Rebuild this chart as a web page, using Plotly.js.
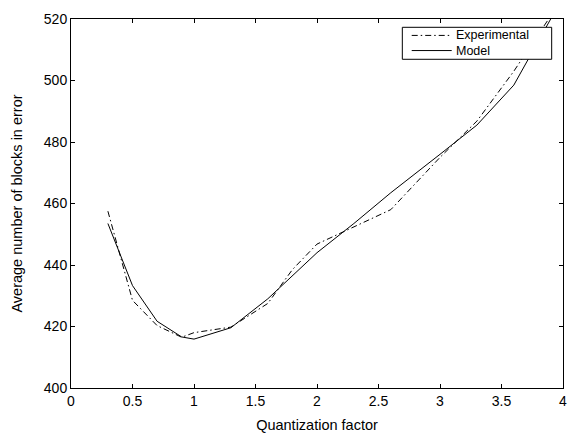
<!DOCTYPE html>
<html>
<head>
<meta charset="utf-8">
<script src="https://cdn.plot.ly/plotly-3.0.1.min.js"></script>
<style>html,body{margin:0;padding:0;background:#fff;}#chart{width:570px;height:434px;}</style>
</head>
<body>
<div id="chart"></div>
<script>
const expX = [0.3, 0.5, 0.7, 0.9, 1.0, 1.3, 1.6, 1.8, 2.0, 2.3, 2.6, 3.0, 3.3, 3.6, 3.9];
const expY = [457.5, 428.5, 420.3, 416.5, 418.0, 419.8, 427.5, 438.5, 446.8, 452.5, 458.0, 475.0, 486.8, 503.0, 521.0];
const modelX = [0.3, 0.5, 0.7, 0.9, 1.0, 1.3, 1.6, 2.0, 2.3, 2.6, 3.0, 3.3, 3.6, 3.9];
const modelY = [453.5, 433.3, 421.7, 416.6, 415.9, 419.6, 429.0, 444.0, 453.5, 463.5, 476.0, 485.5, 498.5, 520.0];
const xTicks = [0, 0.5, 1, 1.5, 2, 2.5, 3, 3.5, 4];
const xTickText = ['0', '0.5', '1', '1.5', '2', '2.5', '3', '3.5', '4'];
const yTicks = [400, 420, 440, 460, 480, 500, 520];
const seriesNames = ['Experimental', 'Model'];

const fam = 'Liberation Sans, Arial, sans-serif';
const expDash = '6px,3px,1.5px,3px';

const traces = [
  {x: expX, y: expY, type: 'scatter', mode: 'lines', name: seriesNames[0],
   line: {color: '#000', width: 1, dash: expDash}},
  {x: modelX, y: modelY, type: 'scatter', mode: 'lines', name: seriesNames[1],
   line: {color: '#000', width: 1}}
];

// Legend drawn in paper coordinates (box, line samples, labels)
const lg = {x0: 0.6734, x1: 0.977, y0: 0.8908, y1: 0.9775,
            sx0: 0.6925, sx1: 0.7738, tx: 0.7805, rows: [0.9555, 0.9145]};

const shapes = [
  {type: 'rect', xref: 'paper', yref: 'paper', x0: lg.x0, x1: lg.x1, y0: lg.y0, y1: lg.y1,
   line: {color: '#000', width: 1}, fillcolor: '#fff', layer: 'above'},
  {type: 'line', xref: 'paper', yref: 'paper', x0: lg.sx0, x1: lg.sx1, y0: lg.rows[0], y1: lg.rows[0],
   line: {color: '#000', width: 1, dash: expDash}, layer: 'above'},
  {type: 'line', xref: 'paper', yref: 'paper', x0: lg.sx0, x1: lg.sx1, y0: lg.rows[1], y1: lg.rows[1],
   line: {color: '#000', width: 1}, layer: 'above'}
];

const annotations = seriesNames.map((n, i) => ({
  text: n, xref: 'paper', yref: 'paper', x: lg.tx, y: lg.rows[i],
  xanchor: 'left', yanchor: 'middle', showarrow: false,
  borderpad: 0,
  font: {family: fam, size: 12.5, color: '#000'}
}));

const layout = {
  width: 570, height: 434,
  margin: {l: 71, r: 7, t: 19, b: 46},
  paper_bgcolor: '#fff', plot_bgcolor: '#fff',
  font: {family: fam, size: 13, color: '#000'},
  showlegend: false,
  shapes: shapes,
  annotations: annotations,
  xaxis: {range: [0, 4], tickvals: xTicks, ticktext: xTickText,
          ticks: 'inside', ticklen: 4, tickcolor: '#000', tickwidth: 1,
          showline: true, linecolor: '#000', linewidth: 1, mirror: 'ticks',
          showgrid: false, zeroline: false,
          tickfont: {family: fam, size: 14, color: '#000'},
          title: {text: 'Quantization factor', standoff: 12,
                  font: {family: fam, size: 14.5, color: '#000'}}},
  yaxis: {range: [400, 520], tickvals: yTicks,
          ticks: 'inside', ticklen: 4, tickcolor: '#000', tickwidth: 1,
          showline: true, linecolor: '#000', linewidth: 1, mirror: 'ticks',
          showgrid: false, zeroline: false,
          tickfont: {family: fam, size: 14, color: '#000'},
          title: {text: 'Average number of blocks in error', standoff: 17,
                  font: {family: fam, size: 14.5, color: '#000'}}}
};

Plotly.newPlot('chart', traces, layout, {displayModeBar: false, staticPlot: true});
</script>
</body>
</html>
